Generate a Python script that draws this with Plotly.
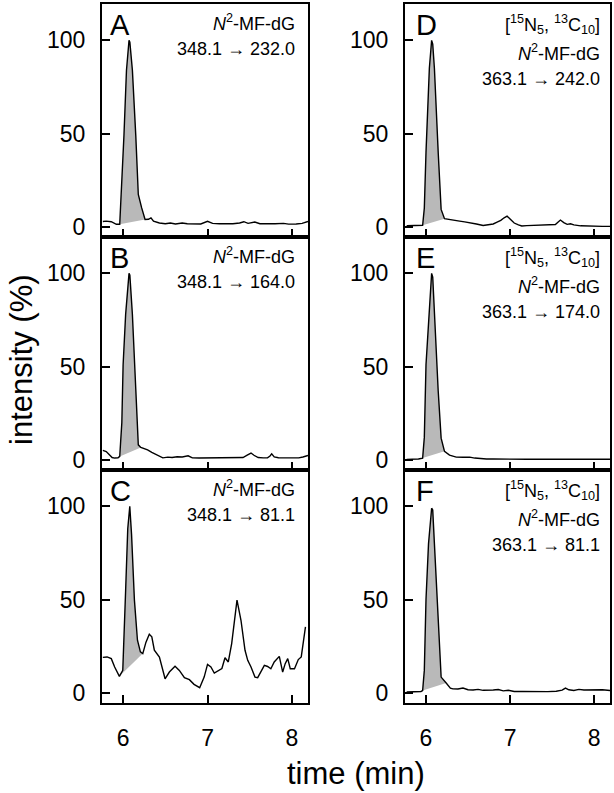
import plotly.graph_objects as go

# ---------------- data ----------------
# Panel A: N2-MF-dG 348.1 -> 232.0
t_A = [5.76, 5.80, 5.86, 5.92, 5.96, 5.975, 6.01, 6.04, 6.07, 6.08, 6.11, 6.15, 6.18, 6.22, 6.26,
       6.30, 6.33, 6.36, 6.43, 6.50, 6.56, 6.62, 6.70, 6.76, 6.84, 6.92, 7.00, 7.06, 7.14, 7.22,
       7.30, 7.38, 7.43, 7.48, 7.56, 7.62, 7.70, 7.80, 7.90, 7.96, 8.05, 8.12, 8.19]
i_A = [2.8, 3.0, 2.7, 1.3, 1.3, 13.7, 49, 84, 100, 99, 84, 49, 17.3, 10.1, 3.9,
       4.0, 4.8, 3.0, 2.0, 1.6, 2.0, 1.5, 2.0, 1.6, 1.7, 1.5, 2.9, 1.8, 1.6, 1.5,
       1.6, 2.0, 2.7, 1.8, 2.5, 1.6, 1.5, 1.6, 1.8, 1.4, 1.5, 1.8, 2.8]

# Panel B: N2-MF-dG 348.1 -> 164.0
t_B = [5.76, 5.80, 5.87, 5.90, 5.94, 5.96, 5.985, 6.00, 6.03, 6.07, 6.08, 6.11, 6.15, 6.18, 6.21,
       6.29, 6.34, 6.39, 6.44, 6.47, 6.53, 6.58, 6.64, 6.70, 6.77, 6.82, 6.90, 6.96, 7.02, 7.10,
       7.18, 7.26, 7.34, 7.42, 7.47, 7.515, 7.55, 7.60, 7.66, 7.71, 7.74, 7.76, 7.79, 7.84, 7.92,
       8.00, 8.08, 8.13, 8.19]
i_B = [5.0, 4.4, 1.2, 0.9, 1.0, 1.8, 20, 51, 78, 100, 99, 78, 38, 8, 6.6,
       5.3, 4.0, 2.7, 1.5, 1.0, 1.4, 1.2, 1.6, 1.5, 2.1, 1.0, 0.9, 0.9, 0.9, 1.2,
       0.9, 0.9, 0.9, 1.2, 2.5, 3.6, 2.4, 1.2, 1.0, 1.0, 2.0, 3.2, 1.5, 1.1, 1.0,
       0.9, 1.0, 1.5, 2.3]

# Panel C: N2-MF-dG 348.1 -> 81.1
t_C = [5.76, 5.81, 5.86, 5.90, 5.956, 5.996, 6.03, 6.055, 6.079, 6.10, 6.134, 6.17, 6.205, 6.233,
       6.27, 6.31, 6.34, 6.37, 6.43, 6.497, 6.548, 6.615, 6.666, 6.726, 6.785, 6.84, 6.907, 6.96,
       7.00, 7.04, 7.08, 7.14, 7.17, 7.207, 7.246, 7.286, 7.349, 7.396, 7.444, 7.476, 7.515, 7.562,
       7.594, 7.673, 7.712, 7.75, 7.79, 7.85, 7.89, 7.92, 7.95, 7.98, 8.03, 8.075, 8.11, 8.16]
i_C = [19.0, 19.2, 18.3, 13.8, 8.8, 12, 55, 88, 100, 85, 49.7, 28.2, 21.9, 21.0,
       27, 31.4, 30, 22.8, 19.2, 7.5, 11.1, 14.2, 12, 8.1, 7.0, 4.5, 2.7, 8.4,
       15.2, 13.8, 10.6, 12.4, 13, 18.8, 16.5, 26.4, 49.7, 38.9, 22.8, 17.4, 13.8, 8.4,
       8.1, 14.7, 14.1, 12.9, 16.5, 19.5, 11.1, 15.6, 18.3, 12.9, 12.9, 17.8, 19.2, 35.3]

# Panel D: [15N5,13C10]N2-MF-dG 363.1 -> 242.0
t_D = [5.77, 5.85, 5.94, 5.96, 5.98, 6.00, 6.04, 6.067, 6.08, 6.10, 6.145, 6.18, 6.22,
       6.28, 6.32, 6.40, 6.46, 6.52, 6.60, 6.68, 6.75, 6.80, 6.84, 6.89, 6.93, 6.965, 7.01,
       7.05, 7.10, 7.14, 7.20, 7.30, 7.40, 7.48, 7.54, 7.57, 7.60, 7.64, 7.68, 7.72, 7.76,
       7.84, 7.92, 8.00, 8.10, 8.19]
i_D = [0.5, 0.5, 0.5, 0.8, 10, 40, 85, 100, 98, 85, 40, 9.3, 4.3,
       4.0, 3.6, 3.0, 2.6, 2.2, 1.5, 0.7, 1.0, 1.5, 2.4, 3.4, 4.8, 5.7, 3.8,
       2.0, 1.0, 0.4, 0.6, 0.7, 0.8, 0.8, 1.2, 2.4, 3.6, 2.2, 1.3, 1.6, 1.0,
       0.5, 0.3, 0.2, 0.2, 0.2]

# Panel E: [15N5,13C10]N2-MF-dG 363.1 -> 174.0
t_E = [5.77, 5.85, 5.91, 5.96, 5.98, 6.00, 6.04, 6.067, 6.08, 6.10, 6.145, 6.18, 6.22,
       6.28, 6.36, 6.44, 6.52, 6.58, 6.65, 6.72, 6.80, 6.90, 7.00, 7.20, 7.40, 7.60,
       7.80, 8.00, 8.19]
i_E = [0.2, 0.3, 0.4, 0.9, 12, 51, 78, 100, 98, 78, 37, 11.6, 4.5,
       2.5, 1.4, 1.3, 1.4, 0.9, 0.5, 0.4, 0.4, 0.3, 0.3, 0.3, 0.3, 0.3,
       0.3, 0.3, 0.3]

# Panel F: [15N5,13C10]N2-MF-dG 363.1 -> 81.1
t_F = [5.77, 5.85, 5.94, 5.96, 5.98, 6.00, 6.03, 6.067, 6.08, 6.10, 6.145, 6.18, 6.24,
       6.29, 6.32, 6.38, 6.44, 6.50, 6.56, 6.62, 6.68, 6.74, 6.80, 6.86, 6.92, 6.98,
       7.05, 7.15, 7.25, 7.35, 7.45, 7.55, 7.62, 7.66, 7.70, 7.76, 7.82, 7.88, 7.95,
       8.02, 8.10, 8.19]
i_F = [0.4, 0.5, 0.7, 1.2, 12, 50, 80, 99, 98, 80, 35, 8.4, 5.2,
       2.5, 2.1, 2.0, 2.5, 1.6, 1.5, 1.8, 1.3, 1.6, 1.5, 1.7, 1.0, 1.3,
       0.7, 0.7, 0.6, 0.7, 0.6, 0.8, 1.4, 2.5, 1.6, 1.2, 1.8, 1.5, 1.6,
       1.4, 1.6, 1.2]

# integrated peak windows (start, end) in minutes
peak_windows = {"A": (5.96, 6.26), "B": (5.96, 6.21), "C": (5.956, 6.233),
                "D": (5.96, 6.22), "E": (5.96, 6.22), "F": (5.96, 6.24)}

panel_letters = ["A", "B", "C", "D", "E", "F"]
transitions = ["348.1 \u2192 232.0", "348.1 \u2192 164.0", "348.1 \u2192 81.1",
               "363.1 \u2192 242.0", "363.1 \u2192 174.0", "363.1 \u2192 81.1"]
analyte = "<i>N</i><sup>2</sup>-MF-dG"
isotope = "[<sup>15</sup>N<sub>5</sub>, <sup>13</sup>C<sub>10</sub>]"
x_ticks = [6, 7, 8]
y_ticks = [0, 50, 100]
x_title = "time (min)"
y_title = "intensity (%)"

series = {"A": (t_A, i_A), "B": (t_B, i_B), "C": (t_C, i_C),
          "D": (t_D, i_D), "E": (t_E, i_E), "F": (t_F, i_F)}

# ---------------- figure ----------------
W, H = 614, 793
ML, MR, MT, MB = 102, 4, 2, 90
pw = W - ML - MR
ph = H - MT - MB

col_dom = [[0, 206 / pw], [303 / pw, 1]]
row_dom = [[2 / 3, 1], [1 / 3, 2 / 3], [0, 1 / 3]]

FONT = "Liberation Sans, Arial, sans-serif"
fig = go.Figure()
layout = dict(
    width=W, height=H, paper_bgcolor="white", plot_bgcolor="white",
    margin=dict(l=ML, r=MR, t=MT, b=MB), showlegend=False,
    font=dict(family=FONT, color="black"),
)

annotations = []
for k, letter in enumerate(panel_letters):
    col = 0 if k < 3 else 1
    row = k % 3
    n = k + 1
    xa = "x" if n == 1 else f"x{n}"
    ya = "y" if n == 1 else f"y{n}"
    t, inten = series[letter]
    s, e = peak_windows[letter]
    tp = [tt for tt, v in zip(t, inten) if s - 1e-9 <= tt <= e + 1e-9]
    ip = [v for tt, v in zip(t, inten) if s - 1e-9 <= tt <= e + 1e-9]
    fig.add_trace(go.Scatter(x=tp, y=ip, mode="lines", fill="toself",
                             fillcolor="#b9b9b9", line=dict(width=0),
                             xaxis=xa, yaxis=ya, hoverinfo="skip"))
    fig.add_trace(go.Scatter(x=t, y=inten, mode="lines",
                             line=dict(color="black", width=1.4),
                             xaxis=xa, yaxis=ya))

    axkey_x = "xaxis" if n == 1 else f"xaxis{n}"
    axkey_y = "yaxis" if n == 1 else f"yaxis{n}"
    layout[axkey_x] = dict(
        domain=col_dom[col], anchor=ya, range=[5.75, 8.19],
        tickvals=x_ticks, showticklabels=(row == 2),
        ticks="inside", ticklen=8, tickwidth=2, tickcolor="black",
        showline=True, linewidth=2, linecolor="black", mirror=True,
        showgrid=False, zeroline=False,
        tickfont=dict(size=23, family=FONT), ticklabelstandoff=13,
    )
    layout[axkey_y] = dict(
        domain=row_dom[row], anchor=xa, range=[-5.5, 119.5],
        tickvals=y_ticks, ticks="inside", ticklen=8, tickwidth=2, tickcolor="black",
        showline=True, linewidth=2, linecolor="black", mirror=True,
        showgrid=False, zeroline=False,
        tickfont=dict(size=23, family=FONT), ticklabelstandoff=10,
    )

    panel_h = ph / 3
    panel_w = 206 if col == 0 else 205
    xdom = f"{xa} domain"
    ydom = f"{ya} domain"
    # panel letter
    annotations.append(dict(text=letter, xref=xdom, yref=ydom,
                            x=(6 if col == 0 else 9) / panel_w, y=1 - 21 / panel_h,
                            xanchor="left", yanchor="middle", showarrow=False,
                            font=dict(size=29, family=FONT)))
    xr = 1 - (11 if col == 0 else 8) / panel_w
    if col == 0:
        lines = [(analyte, 19), (transitions[k], 45)]
    else:
        lines = [(isotope, 21), (analyte, 49), (transitions[k], 75)]
    for txt, off in lines:
        annotations.append(dict(text=txt, xref=xdom, yref=ydom, x=xr, y=1 - off / panel_h,
                                xanchor="right", yanchor="middle", showarrow=False,
                                font=dict(size=18, family=FONT)))

annotations.append(dict(text=y_title, xref="paper", yref="paper",
                        x=(22 - ML) / pw, y=(H - MB - 359) / ph, textangle=-90,
                        xanchor="center", yanchor="middle", showarrow=False,
                        font=dict(size=31, family=FONT)))
annotations.append(dict(text=x_title, xref="paper", yref="paper",
                        x=(356 - ML) / pw, y=-(774 - (H - MB)) / ph,
                        xanchor="center", yanchor="middle", showarrow=False,
                        font=dict(size=31, family=FONT)))
layout["annotations"] = annotations
fig.update_layout(**layout)
fig.write_html("out.html", config={"displayModeBar": False},
               post_script="document.body.style.margin='0px';document.body.style.overflow='hidden';")
